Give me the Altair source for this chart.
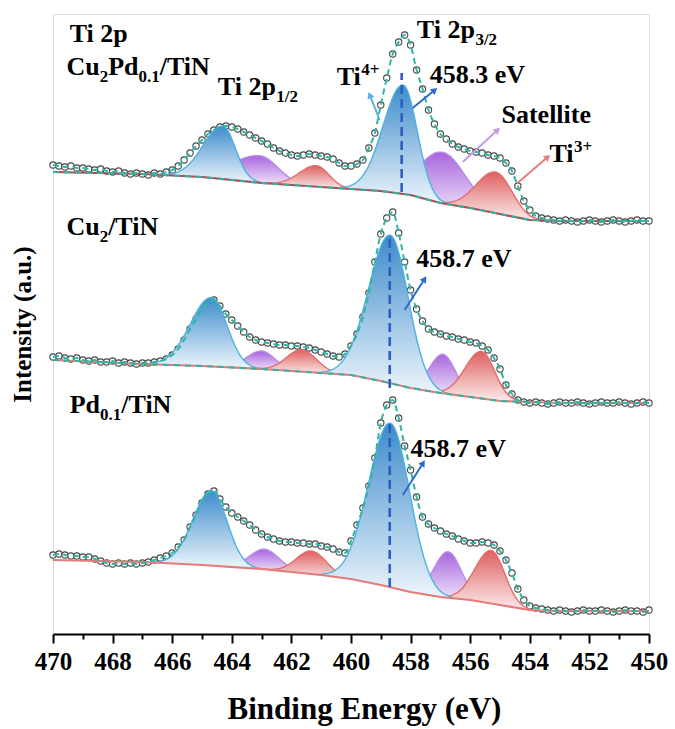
import re
import math
import numpy as np
import pandas as pd
import altair as alt

# ---------------- layout ----------------
W, H = 596, 620
X_HI, X_LO = 470, 450
Y_MAX = 620
PX_PER_EV = W / (X_HI - X_LO)
PX_PER_UNIT = H / Y_MAX
FONT = "Times New Roman, Liberation Serif, serif"

# ---------------- data ----------------
samples = ["Cu2Pd0.1/TiN", "Cu2/TiN", "Pd0.1/TiN"]
offsets = [413, 231, 23]

# binding-energy grid of the measured points (470 -> 450 eV, 0.2 eV step)
energies = np.round(np.linspace(470, 450, 101), 1)

counts_cupd = [56, 55, 54, 55, 53, 53, 52, 51, 52, 50, 49, 50, 48, 47, 48, 47, 46, 48, 47, 49,
               51, 55, 61, 68, 75, 81, 87, 91, 94, 95, 94, 92, 89, 86, 83, 80, 77, 73, 70, 68,
               66, 65, 66, 67, 66, 65, 64, 62, 58, 55, 55, 57, 61, 73, 88, 116, 143, 167, 179, 186,
               176, 151, 132, 111, 97, 87, 82, 77, 74, 72, 70, 69, 68, 66, 65, 63, 58, 50, 35, 20,
               11, 5, 3, 2, 1, 0, 1, 0, -1, 0, 1, 0, -1, 0, 1, 0, -1, 0, 1, 0, 0]
counts_cu = [46, 47, 45, 44, 45, 43, 42, 43, 41, 41, 42, 40, 41, 40, 39, 40, 40, 41, 42, 44,
             48, 54, 63, 74, 84, 93, 100, 103, 97, 89, 83, 77, 71, 66, 63, 61, 60, 59, 58, 58,
             57, 57, 56, 55, 53, 51, 49, 47, 46, 49, 57, 69, 86, 110, 141, 169, 185, 191, 170, 141,
             113, 94, 82, 74, 71, 69, 67, 66, 64, 63, 61, 60, 57, 53, 45, 34, 18, 9, 3, 1,
             0, 1, 0, -1, 0, 1, 0, 0, 1, 0, -1, 0, 1, 0, 0, 1, 0, -1, 0, 1, 0]
counts_pd = [56, 57, 56, 55, 55, 54, 54, 52, 50, 48, 47, 48, 47, 48, 47, 48, 49, 51, 53, 55,
             58, 64, 71, 84, 96, 108, 117, 120, 112, 104, 98, 94, 90, 86, 81, 77, 74, 72, 70, 69,
             69, 68, 68, 67, 67, 65, 64, 62, 59, 58, 70, 86, 103, 125, 153, 188, 206, 211, 193, 165,
             141, 114, 94, 87, 83, 80, 77, 75, 72, 70, 68, 68, 69, 68, 66, 60, 51, 38, 22, 11,
             5, 3, 2, 1, 0, 1, 0, -1, 0, 1, 0, 0, 1, 0, -1, 0, 1, 0, 0, -1, 1]
counts = [counts_cupd, counts_cu, counts_pd]

# Shirley-type background (knots)
bg_energy = [470, 467, 465, 463, 461, 460, 459, 458, 457, 456, 455, 454, 453, 450]
bg_cupd = [49, 47, 44, 38, 34, 32, 30, 26, 18, 13, 7, 1, 0, 0]
bg_cu = [43, 39, 37, 34, 30, 28, 22, 15, 10, 6, 2, 1, 0, 0]
bg_pd = [51, 49, 46, 42, 36, 32, 26, 19, 14, 11, 6, 1, 0, 0]
backgrounds = [bg_cupd, bg_cu, bg_pd]
bg_colors = ["#b04a50", "#e57a7a", "#e57a7a"]
bg_dashed = ["Cu2Pd0.1/TiN", "Cu2/TiN"]

# fitted components: Ti4+ 2p3/2, Ti4+ 2p1/2, satellite 2p3/2, satellite 2p1/2, Ti3+ 2p3/2, Ti3+ 2p1/2
comp_family = ["blue", "blue", "purple", "purple", "red", "red"]
centers = [[458.25, 464.30, 456.93, 463.06, 455.14, 461.16],
           [458.68, 464.68, 456.91, 463.00, 455.62, 461.66],
           [458.68, 464.68, 456.74, 462.90, 455.29, 461.33]]
heights = [[109, 53, 51, 27, 41, 21],
           [148, 69, 39, 18, 47, 22],
           [164, 75, 46, 20, 53, 23]]
sigma_hi = [[0.67, 0.66, 0.79, 0.95, 0.65, 0.57],
            [0.73, 0.71, 0.45, 0.50, 0.55, 0.50],
            [0.73, 0.62, 0.47, 0.50, 0.55, 0.50]]
sigma_lo = [[0.47, 0.42, 0.78, 0.61, 0.54, 0.42],
            [0.60, 0.52, 0.42, 0.45, 0.45, 0.50],
            [0.65, 0.52, 0.45, 0.50, 0.45, 0.50]]

# dashed peak-position markers
vline_x = [458.3, 458.7, 458.7]
vline_lo = [29, 15, 24]
vline_hi = [148, 168, 188]

# annotations (x in eV, y in intensity units)
label_text = ["Ti 2p", "Cu_{2}Pd_{0.1}/TiN", "Ti 2p_{1/2}", "Ti 2p_{3/2}", "Ti^{4+}", "458.3 eV",
              "Satellite", "Ti^{3+}", "Cu_{2}/TiN", "458.7 eV", "Pd_{0.1}/TiN", "458.7 eV"]
label_x = [469.44, 469.55, 464.47, 457.79, 460.48, 457.36, 454.95, 453.34, 469.55, 457.81, 469.44, 458.0]
label_y = [592, 559, 539, 596, 549, 551, 511, 472, 399, 367, 221, 177]

arrow_x1 = [459.04, 457.93, 456.25, 454.41, 458.20, 458.26]
arrow_y1 = [514, 526, 472, 451, 324, 139]
arrow_x2 = [459.37, 457.19, 455.08, 453.40, 457.53, 457.58]
arrow_y2 = [539, 544, 504, 477, 355, 171]
arrow_col = ["#5aaee0", "#2f6bc6", "#c39be8", "#ec7b7b", "#2f6bc6", "#2f6bc6"]

family_style = {
    "blue": {"line": "#4fb2de", "top": "#3d8bcb", "bot": "#eef6fc"},
    "purple": {"line": "#b98ae8", "top": "#a865dd", "bot": "#f4edfb"},
    "red": {"line": "#e36d6d", "top": "#de6060", "bot": "#fcecec"},
}

# ---------------- tables ----------------
pts_rows = []
for s, off, cs in zip(samples, offsets, counts):
    for e, c in zip(energies, cs):
        pts_rows.append({"sample": s, "x": float(e), "y": off + c})
df_pts = pd.DataFrame(pts_rows)

bg_rows = []
for s, off, b in zip(samples, offsets, backgrounds):
    for e, v in zip(bg_energy, b):
        bg_rows.append({"sample": s, "x": e, "y": off + v})
df_bg = pd.DataFrame(bg_rows)

comp_rows = []
for si, (s, off, b) in enumerate(zip(samples, offsets, backgrounds)):
    bx = np.array(bg_energy[::-1], dtype=float)
    by = np.array(b[::-1], dtype=float)
    for ci, fam in enumerate(comp_family):
        c = centers[si][ci]
        h = heights[si][ci]
        sh = sigma_hi[si][ci]
        sl = sigma_lo[si][ci]
        xs = np.arange(c - 3.2 * sl, c + 3.2 * sh + 1e-9, 0.04)
        for x in xs:
            sg = sh if x > c else sl
            g = h * math.exp(-((x - c) ** 2) / (2 * sg * sg))
            base = float(np.interp(x, bx, by))
            comp_rows.append({"key": f"{si}-{ci}", "fam": fam, "x": float(x),
                              "y": off + base + g, "y0": off + base})
df_comp = pd.DataFrame(comp_rows)

df_v = pd.DataFrame({"x": vline_x,
                     "y": [o + v for o, v in zip(offsets, vline_lo)],
                     "y2": [o + v for o, v in zip(offsets, vline_hi)]})

angs = []
for x1, y1, x2, y2 in zip(arrow_x1, arrow_y1, arrow_x2, arrow_y2):
    dx = -(x2 - x1) * PX_PER_EV
    dy = -(y2 - y1) * PX_PER_UNIT
    angs.append(math.degrees(math.atan2(dx, -dy)) % 360)
df_arr = pd.DataFrame({"x": arrow_x1, "y": arrow_y1, "ex": arrow_x2, "ey": arrow_y2,
                       "col": arrow_col, "ang": angs})

# text pieces with sub/superscripts (Times-Bold advance widths)
TW = {" ": 250, "+": 570, ".": 250, "/": 278, "C": 722, "N": 722, "P": 611, "S": 556, "T": 667,
      "V": 722, "a": 500, "d": 556, "e": 444, "i": 278, "l": 278, "p": 556, "t": 333, "u": 556}
FS_MAIN, FS_SMALL = 26, 17


def split_pieces(s):
    out = []
    for m in re.finditer(r"_\{([^}]*)\}|\^\{([^}]*)\}|([^_^]+)", s):
        if m.group(1) is not None:
            out.append((m.group(1), "sub"))
        elif m.group(2) is not None:
            out.append((m.group(2), "sup"))
        else:
            out.append((m.group(3), "n"))
    return out


txt_rows = []
for s, x0, y0 in zip(label_text, label_x, label_y):
    offpx = 0.0
    for t, kind in split_pieces(s):
        fs = FS_MAIN if kind == "n" else FS_SMALL
        dy = 0 if kind == "n" else (-7 if kind == "sub" else 10)
        txt_rows.append({"x": x0 - offpx / PX_PER_EV, "y": y0 + dy / PX_PER_UNIT, "t": t, "fs": fs})
        offpx += sum(TW.get(ch, 500) for ch in t) * fs / 1000.0
df_txt = pd.DataFrame(txt_rows)

# ---------------- encodings ----------------
xs_scale = alt.Scale(domain=[X_HI, X_LO], nice=False, zero=False)
ys_scale = alt.Scale(domain=[0, Y_MAX], nice=False, zero=False)

x_axis = alt.Axis(
    values=list(range(450, 471)),
    labelExpr="datum.value % 2 == 0 ? datum.label : ''",
    tickSize={"condition": {"test": "datum.value % 2 == 0", "value": 9}, "value": 5},
    tickWidth=2, tickColor="black", domainColor="black", domainWidth=2,
    labelFont=FONT, labelFontWeight="bold", labelFontSize=25, labelColor="black",
    labelPadding=6, labelFlush=False, labelOverlap=False, labelAngle=0,
    title="Binding Energy (eV)", titleFont=FONT, titleFontWeight="bold",
    titleFontSize=31, titleColor="black", titlePadding=20, titleX=311, grid=False,
)
y_axis = alt.Axis(labels=False, ticks=False, domain=False, grid=False,
                  title="Intensity (a.u.)", titleFont=FONT, titleFontWeight="bold",
                  titleFontSize=25, titleColor="black", titlePadding=18)


def X(f):
    return alt.X(f, type="quantitative", scale=xs_scale, axis=x_axis)


def Y(f):
    return alt.Y(f, type="quantitative", scale=ys_scale, axis=y_axis)


layers = []
# measured points (drawn first, partly covered by fitted areas)
layers.append(alt.Chart(df_pts).mark_point(shape="circle", filled=True, fill="white",
                                           stroke="#474747", strokeWidth=1.1, size=40, opacity=1)
              .encode(x=X("x"), y=Y("y"), detail="sample:N"))

for fam in ["purple", "red", "blue"]:
    st = family_style[fam]
    grad = alt.Gradient(gradient="linear",
                        stops=[alt.GradientStop(color=st["top"], offset=0),
                               alt.GradientStop(color=st["bot"], offset=1)],
                        x1=1, x2=1, y1=0, y2=1)
    layers.append(alt.Chart(df_comp[df_comp["fam"] == fam]).mark_area(
        color=grad, opacity=1, line={"color": st["line"], "strokeWidth": 1.4})
        .encode(x=X("x"), y=Y("y"), y2="y0", detail="key:N"))

# background
layers.append(alt.Chart(df_bg).mark_line(strokeWidth=2.2)
              .encode(x=X("x"), y=Y("y"), detail="sample:N",
                      color=alt.Color("sample:N", scale=alt.Scale(domain=samples, range=bg_colors),
                                      legend=None)))
layers.append(alt.Chart(df_bg[df_bg["sample"].isin(bg_dashed)])
              .mark_line(strokeWidth=2, color="#2fb5a3", strokeDash=[6, 5])
              .encode(x=X("x"), y=Y("y"), detail="sample:N"))

# fit envelope
layers.append(alt.Chart(df_pts).mark_line(color="#2fb5a3", strokeDash=[6, 4], strokeWidth=2,
                                          interpolate="monotone")
              .encode(x=X("x"), y=Y("y"), detail="sample:N"))

# peak markers
layers.append(alt.Chart(df_v).mark_rule(color="#2c5ec2", strokeDash=[9, 5], strokeWidth=2.6)
              .encode(x=X("x"), y=Y("y"), y2="y2"))

# arrows
layers.append(alt.Chart(df_arr).mark_rule(strokeWidth=2)
              .encode(x=X("x"), y=Y("y"), x2="ex", y2="ey", stroke=alt.Stroke("col:N", scale=None)))
layers.append(alt.Chart(df_arr).mark_point(shape="triangle-up", filled=True, size=55, opacity=1)
              .encode(x=X("ex"), y=Y("ey"), angle=alt.Angle("ang:Q", scale=None),
                      fill=alt.Fill("col:N", scale=None)))

# labels
layers.append(alt.Chart(df_txt).mark_text(align="left", baseline="alphabetic", font=FONT,
                                          fontWeight="bold", color="black")
              .encode(x=X("x"), y=Y("y"), text="t:N", size=alt.Size("fs:Q", scale=None)))

chart = (alt.layer(*layers)
         .properties(width=W, height=H,
                     padding={"left": 53, "top": 14, "right": 26, "bottom": 95},
                     autosize=alt.AutoSizeParams(type="none"))
         .configure_view(stroke="black", strokeWidth=2)
         .configure(background="white"))

chart.save("out.html", embed_options={"renderer": "svg", "actions": False})
